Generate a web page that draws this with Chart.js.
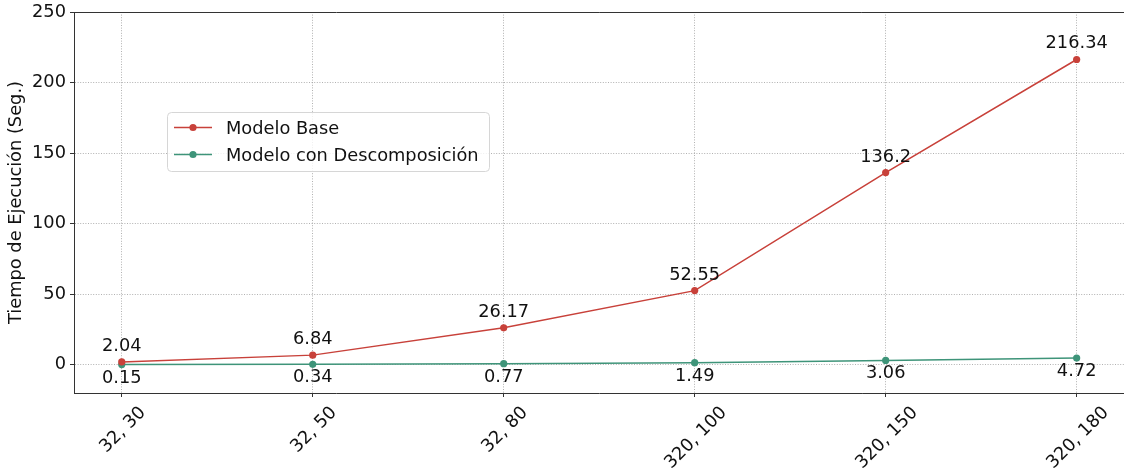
<!DOCTYPE html>
<html>
<head>
<meta charset="utf-8">
<script src="https://cdn.jsdelivr.net/npm/chart.js@4.4.1/dist/chart.umd.min.js"></script>
<style>
  html, body { margin: 0; padding: 0; background: #fff; overflow: hidden; }
  #c { display: block; width: 1128px; height: 470px; }
</style>
</head>
<body>
<canvas id="c" width="1128" height="470"></canvas>
<script>
// Execution time per configuration (seconds)
const categories = ['32, 30', '32, 50', '32, 80', '320, 100', '320, 150', '320, 180'];
const baseTimes = [2.04, 6.84, 26.17, 52.55, 136.2, 216.34];
const decompTimes = [0.15, 0.34, 0.77, 1.49, 3.06, 4.72];
const yTicks = [0, 50, 100, 150, 200, 250];
const seriesNames = ['Modelo Base', 'Modelo con Descomposición'];

const RED = '#c8413a';
const GREEN = '#3e9479';
const FONT = '"DejaVu Sans", sans-serif';
const FS = 17.8;
const INK = '#111';
const SPINE = '#333';
const GRID = 'rgba(140,140,140,0.85)';

const toPoints = arr => arr.map((v, i) => ({ x: i, y: v }));

// value labels: above for the base model, below for the decomposition model
const valueLabels = {
  id: 'valueLabels',
  afterDatasetsDraw(chart) {
    const ctx = chart.ctx;
    ctx.save();
    ctx.font = FS + 'px ' + FONT;
    ctx.fillStyle = INK;
    ctx.textAlign = 'center';
    ctx.textBaseline = 'alphabetic';
    chart.data.datasets.forEach((ds, di) => {
      const meta = chart.getDatasetMeta(di);
      meta.data.forEach((pt, i) => {
        const v = ds.data[i].y;
        const dy = di === 0 ? -11 : 18;
        ctx.fillText(String(v), pt.x, pt.y + dy);
      });
    });
    ctx.restore();
  }
};

// frame top line, rotated category labels and legend box
const extras = {
  id: 'extras',
  afterDraw(chart) {
    const ctx = chart.ctx;
    const a = chart.chartArea;
    ctx.save();
    // top spine
    ctx.strokeStyle = SPINE;
    ctx.lineWidth = 1;
    ctx.beginPath();
    ctx.moveTo(a.left, Math.round(a.top) + 0.5);
    ctx.lineTo(a.right, Math.round(a.top) + 0.5);
    ctx.stroke();

    // category labels rotated 45°, centred under each tick
    const xs = chart.scales.x;
    ctx.font = FS + 'px ' + FONT;
    ctx.fillStyle = INK;
    ctx.textAlign = 'center';
    ctx.textBaseline = 'alphabetic';
    const capH = 0.729 * FS;
    categories.forEach((lab, i) => {
      const x = xs.getPixelForValue(i);
      const w = ctx.measureText(lab).width;
      const bh = (w + capH) * Math.SQRT1_2;
      const cy = a.bottom + 11 + bh / 2;
      ctx.save();
      ctx.translate(x, cy);
      ctx.rotate(-Math.PI / 4);
      ctx.fillText(lab, 0, capH / 2);
      ctx.restore();
    });

    // legend
    const lx = 167.5, ly = 112.5, lw = 322, lh = 59, r = 4;
    ctx.beginPath();
    ctx.moveTo(lx + r, ly);
    ctx.lineTo(lx + lw - r, ly);
    ctx.quadraticCurveTo(lx + lw, ly, lx + lw, ly + r);
    ctx.lineTo(lx + lw, ly + lh - r);
    ctx.quadraticCurveTo(lx + lw, ly + lh, lx + lw - r, ly + lh);
    ctx.lineTo(lx + r, ly + lh);
    ctx.quadraticCurveTo(lx, ly + lh, lx, ly + lh - r);
    ctx.lineTo(lx, ly + r);
    ctx.quadraticCurveTo(lx, ly, lx + r, ly);
    ctx.closePath();
    ctx.fillStyle = 'rgba(255,255,255,0.8)';
    ctx.fill();
    ctx.strokeStyle = '#d6d6d6';
    ctx.lineWidth = 1;
    ctx.stroke();

    const rows = [127.5, 154.5];
    const colors = [RED, GREEN];
    seriesNames.forEach((name, i) => {
      const y = rows[i];
      ctx.strokeStyle = colors[i];
      ctx.lineWidth = 1.5;
      ctx.beginPath();
      ctx.moveTo(174, y);
      ctx.lineTo(212, y);
      ctx.stroke();
      ctx.fillStyle = colors[i];
      ctx.beginPath();
      ctx.arc(193, y, 3.6, 0, Math.PI * 2);
      ctx.fill();
      ctx.fillStyle = INK;
      ctx.textAlign = 'left';
      ctx.textBaseline = 'alphabetic';
      ctx.fillText(name, 226, y + capH / 2);
    });
    ctx.restore();
  }
};

const gridOpts = {
  color: GRID,
  lineWidth: 0.8,
  drawTicks: true,
  tickLength: 4,
  tickColor: SPINE,
  tickWidth: 1,
  tickBorderDash: []
};
const borderOpts = { display: true, color: SPINE, width: 1, dash: [1, 1.6] };

new Chart(document.getElementById('c'), {
  type: 'line',
  data: {
    datasets: [
      {
        label: seriesNames[0],
        data: toPoints(baseTimes),
        borderColor: RED,
        backgroundColor: RED,
        borderWidth: 1.5,
        pointRadius: 3.6,
        pointBorderWidth: 0,
        pointHoverRadius: 3.6,
        tension: 0
      },
      {
        label: seriesNames[1],
        data: toPoints(decompTimes),
        borderColor: GREEN,
        backgroundColor: GREEN,
        borderWidth: 1.5,
        pointRadius: 3.6,
        pointBorderWidth: 0,
        pointHoverRadius: 3.6,
        tension: 0
      }
    ]
  },
  options: {
    responsive: false,
    devicePixelRatio: 1,
    animation: false,
    events: [],
    layout: { padding: { top: 12, right: 1, left: 0, bottom: 0 } },
    plugins: {
      legend: { display: false },
      tooltip: { enabled: false }
    },
    scales: {
      x: {
        type: 'linear',
        min: -0.25,
        max: categories.length - 1 + 0.25,
        afterBuildTicks(scale) {
          scale.ticks = categories.map((_, i) => ({ value: i }));
        },
        afterFit(scale) {
          scale.height = 77;
          scale.paddingLeft = 0;
          scale.paddingRight = 0;
        },
        ticks: { display: false },
        grid: gridOpts,
        border: borderOpts
      },
      y: {
        type: 'linear',
        min: -20,
        max: 250,
        afterBuildTicks(scale) {
          scale.ticks = yTicks.map(v => ({ value: v }));
        },
        afterFit(scale) {
          scale.width = 74;
          scale.paddingTop = 0;
          scale.paddingBottom = 0;
        },
        ticks: {
          color: INK,
          font: { family: FONT, size: FS },
          padding: 4
        },
        grid: gridOpts,
        border: borderOpts,
        title: {
          display: true,
          text: 'Tiempo de Ejecución (Seg.)',
          color: INK,
          font: { family: FONT, size: FS },
          padding: { top: 6, bottom: 0 }
        }
      }
    }
  },
  plugins: [valueLabels, extras]
});
</script>
</body>
</html>
